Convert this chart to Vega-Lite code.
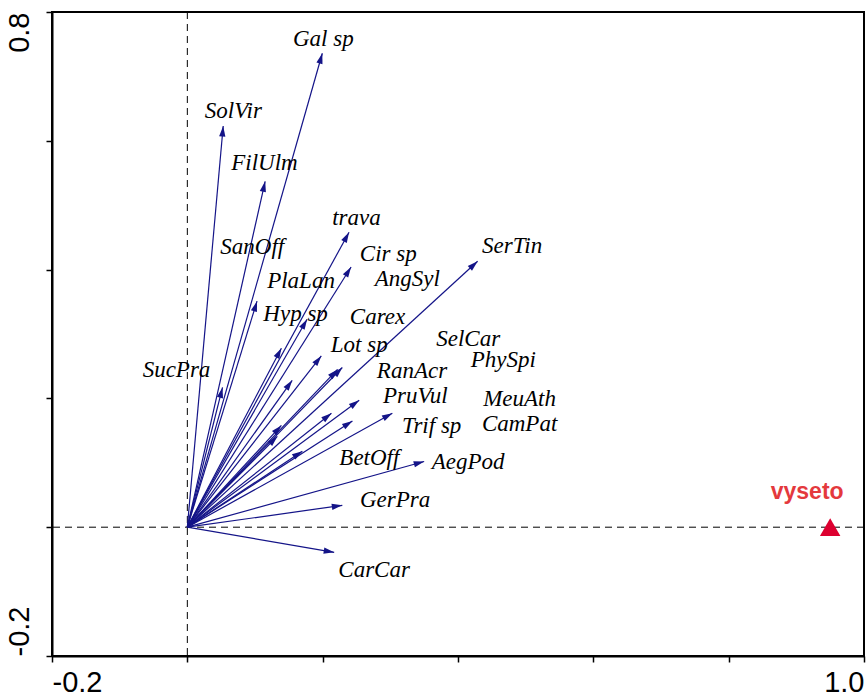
{
  "$schema": "https://vega.github.io/schema/vega-lite/v6.json",
  "autosize": {"type": "none"},
  "width": 812,
  "height": 644,
  "padding": {"left": 52, "top": 12, "right": 2, "bottom": 41},
  "background": "white",
  "datasets": {
    "species": [
      {"name": "Gal sp", "x": 0.1995, "y": 0.736, "lx": 0.201, "ly": 0.758},
      {"name": "SolVir", "x": 0.053, "y": 0.623, "lx": 0.068, "ly": 0.646},
      {"name": "FilUlm", "x": 0.115, "y": 0.537, "lx": 0.114, "ly": 0.565},
      {"name": "trava", "x": 0.239, "y": 0.458, "lx": 0.25, "ly": 0.48},
      {"name": "Cir sp", "x": 0.242, "y": 0.404, "lx": 0.297, "ly": 0.425},
      {"name": "SerTin", "x": 0.429, "y": 0.413, "lx": 0.48, "ly": 0.436},
      {"name": "SanOff", "x": 0.103, "y": 0.351, "lx": 0.096, "ly": 0.435},
      {"name": "Hyp sp", "x": 0.177, "y": 0.323, "lx": 0.16, "ly": 0.331},
      {"name": "PlaLan", "x": 0.139, "y": 0.278, "lx": 0.168, "ly": 0.382},
      {"name": "Carex", "x": 0.198, "y": 0.266, "lx": 0.281, "ly": 0.326},
      {"name": "RanAcr", "x": 0.222, "y": 0.245, "lx": 0.332, "ly": 0.242},
      {"name": "SelCar", "x": 0.229, "y": 0.248, "lx": 0.415, "ly": 0.293},
      {"name": "AngSyl", "x": 0.155, "y": 0.228, "lx": 0.325, "ly": 0.385},
      {"name": "Trif sp", "x": 0.254, "y": 0.197, "lx": 0.361, "ly": 0.157},
      {"name": "PhySpi", "x": 0.213, "y": 0.177, "lx": 0.467, "ly": 0.259},
      {"name": "CamPat", "x": 0.303, "y": 0.177, "lx": 0.491, "ly": 0.161},
      {"name": "BetOff", "x": 0.244, "y": 0.165, "lx": 0.269, "ly": 0.107},
      {"name": "Lot sp", "x": 0.139, "y": 0.158, "lx": 0.254, "ly": 0.283},
      {"name": "PruVul", "x": 0.133, "y": 0.141, "lx": 0.337, "ly": 0.203},
      {"name": "MeuAth", "x": 0.17, "y": 0.118, "lx": 0.491, "ly": 0.199},
      {"name": "AegPod", "x": 0.35, "y": 0.102, "lx": 0.415, "ly": 0.101},
      {"name": "GerPra", "x": 0.229, "y": 0.034, "lx": 0.307, "ly": 0.042},
      {"name": "CarCar", "x": 0.217, "y": -0.039, "lx": 0.276, "ly": -0.067},
      {"name": "SucPra", "x": 0.052, "y": 0.217, "lx": -0.016, "ly": 0.244}
    ],
    "supplementary": [
      {"name": "vyseto", "x": 0.95, "y": 0.0, "lx": 0.916, "ly": 0.054}
    ]
  },
  "layer": [
    {
      "data": {"values": [{}]},
      "mark": {"type": "rule", "color": "black", "strokeWidth": 1, "strokeDash": [7, 5]},
      "encoding": {"y": {"datum": 0, "type": "quantitative"}}
    },
    {
      "data": {"values": [{}]},
      "mark": {"type": "rule", "color": "black", "strokeWidth": 1, "strokeDash": [7, 5]},
      "encoding": {"x": {"datum": 0, "type": "quantitative"}}
    },
    {
      "data": {"name": "species"},
      "mark": {"type": "rule", "color": "#141488", "strokeWidth": 1.2},
      "encoding": {
        "x": {"field": "x", "type": "quantitative"},
        "y": {"field": "y", "type": "quantitative"},
        "x2": {"datum": 0},
        "y2": {"datum": 0}
      }
    },
    {
      "data": {"name": "species"},
      "transform": [
        {"calculate": "atan2(datum.x * 676.7, datum.y * 644) * 180 / PI", "as": "angle"}
      ],
      "mark": {
        "type": "point",
        "shape": "M0,0L-0.3,1L0.3,1Z",
        "size": 440,
        "filled": true,
        "opacity": 1,
        "color": "#141488"
      },
      "encoding": {
        "x": {"field": "x", "type": "quantitative"},
        "y": {"field": "y", "type": "quantitative"},
        "angle": {"field": "angle", "type": "quantitative", "scale": null}
      }
    },
    {
      "data": {"name": "species"},
      "mark": {
        "type": "text",
        "font": "Liberation Serif",
        "fontStyle": "italic",
        "fontSize": 23,
        "align": "center",
        "baseline": "middle",
        "color": "black"
      },
      "encoding": {
        "x": {"field": "lx", "type": "quantitative"},
        "y": {"field": "ly", "type": "quantitative"},
        "text": {"field": "name"}
      }
    },
    {
      "data": {"name": "supplementary"},
      "mark": {"type": "point", "shape": "triangle-up", "size": 420, "filled": true, "opacity": 1, "color": "#dd0030"},
      "encoding": {
        "x": {"field": "x", "type": "quantitative"},
        "y": {"field": "y", "type": "quantitative"}
      }
    },
    {
      "data": {"name": "supplementary"},
      "mark": {
        "type": "text",
        "font": "Liberation Sans",
        "fontWeight": "bold",
        "fontSize": 23,
        "align": "center",
        "baseline": "middle",
        "color": "#e4393d"
      },
      "encoding": {
        "x": {"field": "lx", "type": "quantitative"},
        "y": {"field": "ly", "type": "quantitative"},
        "text": {"field": "name"}
      }
    }
  ],
  "encoding": {
    "x": {
      "type": "quantitative",
      "scale": {"domain": [-0.2, 1.0], "nice": false, "zero": false},
      "axis": {
        "title": null,
        "values": [-0.2, 0, 0.2, 0.4, 0.6, 0.8, 1.0],
        "labelExpr": "datum.value < -0.1 ? '-0.2' : datum.value > 0.9 ? '1.0' : ''",
        "labelFlush": true,
        "labelOverlap": false,
        "labelBound": false,
        "labelPadding": 6,
        "tickSize": 6
      }
    },
    "y": {
      "type": "quantitative",
      "scale": {"domain": [-0.2, 0.8], "nice": false, "zero": false},
      "axis": {
        "title": null,
        "values": [-0.2, 0, 0.2, 0.4, 0.6, 0.8],
        "labelExpr": "datum.value < -0.1 ? '-0.2' : datum.value > 0.7 ? '0.8' : ''",
        "labelAngle": 270,
        "labelAlign": {"condition": {"test": "datum.value < 0", "value": "left"}, "value": "right"},
        "labelBaseline": "bottom",
        "labelOverlap": false,
        "labelBound": false,
        "labelPadding": 12,
        "tickSize": 6
      }
    }
  },
  "config": {
    "view": {"stroke": "black", "strokeWidth": 2},
    "axis": {
      "grid": false,
      "domainColor": "black",
      "domainWidth": 2,
      "tickColor": "black",
      "tickWidth": 1.5,
      "labelFont": "Liberation Sans",
      "labelFontSize": 29,
      "labelColor": "black"
    }
  }
}
